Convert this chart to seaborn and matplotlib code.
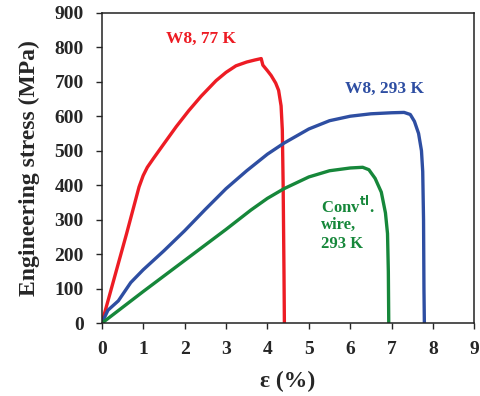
import matplotlib
matplotlib.use("Agg")
import matplotlib.pyplot as plt
import seaborn as sns
import pandas as pd

# Data (strain %, engineering stress MPa)
red_x = [0, 0.3, 0.6, 0.9, 1.0, 1.1, 1.25, 1.5, 1.8, 2.1, 2.4, 2.76, 3.0, 3.24, 3.5, 3.7, 3.85, 3.89, 4.0, 4.09, 4.2, 4.27, 4.33, 4.36, 4.38, 4.40, 4.41]
red_y = [0, 130, 260, 395, 428, 452, 478, 520, 570, 616, 658, 703, 727, 746, 757, 763, 767, 748, 732, 718, 696, 675, 630, 560, 400, 150, 0]

blue_x = [0, 0.15, 0.4, 0.7, 1.0, 1.5, 2.0, 2.5, 3.0, 3.5, 4.0, 4.4, 5.0, 5.5, 6.0, 6.5, 7.0, 7.3, 7.45, 7.55, 7.65, 7.72, 7.75, 7.77, 7.78, 7.79]
blue_y = [0, 38, 65, 118, 155, 210, 268, 330, 390, 442, 490, 522, 563, 587, 600, 607, 610, 611, 605, 585, 550, 500, 440, 300, 100, 0]

green_x = [0, 1, 2, 3, 3.6, 4.0, 4.4, 5.0, 5.5, 6.0, 6.3, 6.45, 6.6, 6.75, 6.85, 6.9, 6.92, 6.93]
green_y = [0, 92, 182, 272, 328, 362, 390, 424, 442, 450, 452, 445, 420, 380, 320, 260, 150, 0]

series = ["W8, 77 K", "W8, 293 K", "Conv wire, 293 K"]
colors = ["#ED1C24", "#2E4EA2", "#16873A"]

df = pd.concat([
    pd.DataFrame({"strain": red_x, "stress": red_y, "series": series[0]}),
    pd.DataFrame({"strain": blue_x, "stress": blue_y, "series": series[1]}),
    pd.DataFrame({"strain": green_x, "stress": green_y, "series": series[2]}),
], ignore_index=True)

sns.set_style("white")
plt.rcParams['font.family'] = ['Liberation Serif', 'DejaVu Serif']
plt.rcParams['font.weight'] = 'bold'
plt.rcParams['lines.solid_joinstyle'] = 'round'

fig = plt.figure(figsize=(4.8, 3.96), dpi=100)
ax = fig.add_axes([0.212, 0.1836, 0.7765, 0.7844])

sns.lineplot(data=df, x="strain", y="stress", hue="series", palette=dict(zip(series, colors)),
             sort=False, estimator=None, units="series", legend=False, lw=2.4, ax=ax)

ax.set_xlim(0, 9)
ax.set_ylim(0, 900)
ax.set_xticks(range(0, 10))
ax.set_yticks(range(0, 1000, 100))
ax.tick_params(axis="x", labelsize=14, direction="out", length=4, width=1, pad=9, bottom=True)
ax.tick_params(axis="y", labelsize=14, direction="out", length=4, width=1, pad=9, left=True)
for lab in ax.get_xticklabels() + ax.get_yticklabels():
    lab.set_fontweight("bold")
for s in ax.spines.values():
    s.set_color("#222222")
    s.set_linewidth(1.1)

ax.set_xlabel("ε (%)", fontsize=17, fontweight="bold", labelpad=9)
ax.set_ylabel("Engineering stress (MPa)", fontsize=17, fontweight="bold", labelpad=10)

ax.text(2.4, 824, "W8, 77 K", color=colors[0], fontsize=12.5, fontweight="bold", ha="center", va="center")
ax.text(6.83, 680, "W8, 293 K", color=colors[1], fontsize=12.5, fontweight="bold", ha="center", va="center")
ax.text(5.29, 340, "Conv$^{\\mathbf{tl}}$.", color=colors[2], fontsize=12, fontweight="bold", ha="left", va="center")
ax.text(5.29, 284, "wire,", color=colors[2], fontsize=12, fontweight="bold", ha="left", va="center")
ax.text(5.29, 230, "293 K", color=colors[2], fontsize=12, fontweight="bold", ha="left", va="center")

fig.savefig("out.png", dpi=100)
